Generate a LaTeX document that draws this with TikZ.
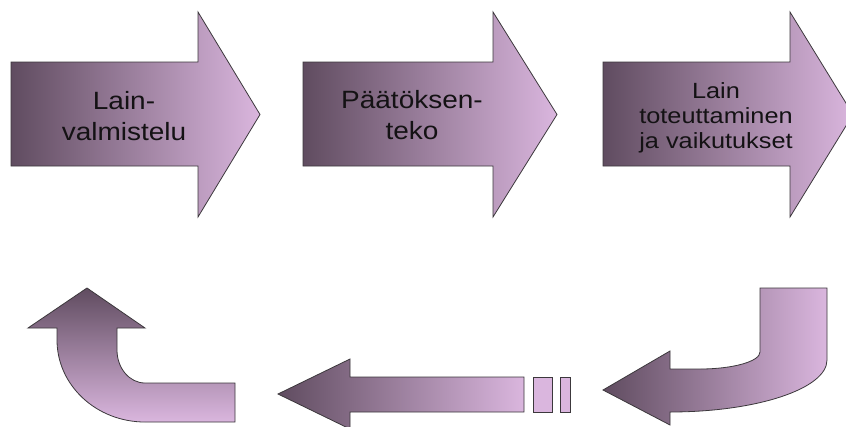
\documentclass[tikz,border=0pt]{standalone}
\usepackage{fontspec}
\newfontfamily\arrfont{Liberation Sans}[FakeStretch=1.12]
\newfontfamily\arrfontw{Liberation Sans}[FakeStretch=1.15]
\definecolor{dk}{RGB}{96,76,96}
\definecolor{lt}{RGB}{218,182,222}
\definecolor{edge}{RGB}{60,56,60}
\definecolor{txt}{RGB}{20,18,20}
\tikzset{
  arrowshape/.style={draw=edge, line width=0.8pt, line join=miter},
  hshade/.style={arrowshape, left color=dk, right color=lt},
  vshade/.style={arrowshape, top color=dk, bottom color=lt},
  label1/.style={inner sep=0pt, align=center, text=txt, font=\arrfont\fontsize{25}{31}\selectfont},
  label3/.style={inner sep=0pt, align=center, text=txt, font=\arrfontw\fontsize{22}{25}\selectfont}
}
\begin{document}
\begin{tikzpicture}[x=1pt, y=-1pt]
\useasboundingbox (0,0) rectangle (846,426);
\fill[white] (0,0) rectangle (846,426);
\clip (0,0) rectangle (846,426);
% top row
\shadedraw[hshade] (11,62) -- (198,62) -- (198,12) -- (260,114.5) -- (198,217) -- (198,166) -- (11,166) -- cycle;
\shadedraw[hshade] (303,62) -- (493,62) -- (493,12) -- (557,114.5) -- (493,217) -- (493,166) -- (303,166) -- cycle;
\shadedraw[hshade] (603,62) -- (790,62) -- (790,12) -- (853,114.5) -- (790,217) -- (790,166) -- (603,166) -- cycle;
\node[label1] (t1) at (124,116) {Lain-\\valmistelu};
\node[label1] (t2) at (412,115) {Päätöksen-\\teko};
\node[label3] (t3) at (716,118) {Lain\\toteuttaminen\\ja vaikutukset};
% bottom row: right bent arrow
\shadedraw[hshade] (603,390) -- (670,351) -- (670,369) -- (700,369)
  .. controls (733.1,369) and (760,361.4) .. (760,352)
  -- (760,288) -- (827,288) -- (827,360)
  .. controls (827,388.7) and (756.7,412) .. (670,412)
  -- (670,425) -- cycle;
% bottom row: middle arrow with bars
\shadedraw[hshade] (278,394) -- (350,359) -- (350,377) -- (524,377) -- (524,412) -- (350,412) -- (350,429) -- cycle;
\filldraw[arrowshape, fill=lt] (533,377) rectangle (552,412);
\filldraw[arrowshape, fill=lt] (560,377) rectangle (570,412);
% bottom row: left bent arrow
\shadedraw[vshade] (87,288) -- (145,328) -- (117,328) -- (117,350)
  .. controls (117,368.2) and (129.5,383) .. (145,383)
  -- (235,383) -- (235,422) -- (145,422)
  .. controls (96.4,422) and (57,385.3) .. (57,340)
  -- (57,328) -- (28,328) -- cycle;
\end{tikzpicture}
\end{document}
